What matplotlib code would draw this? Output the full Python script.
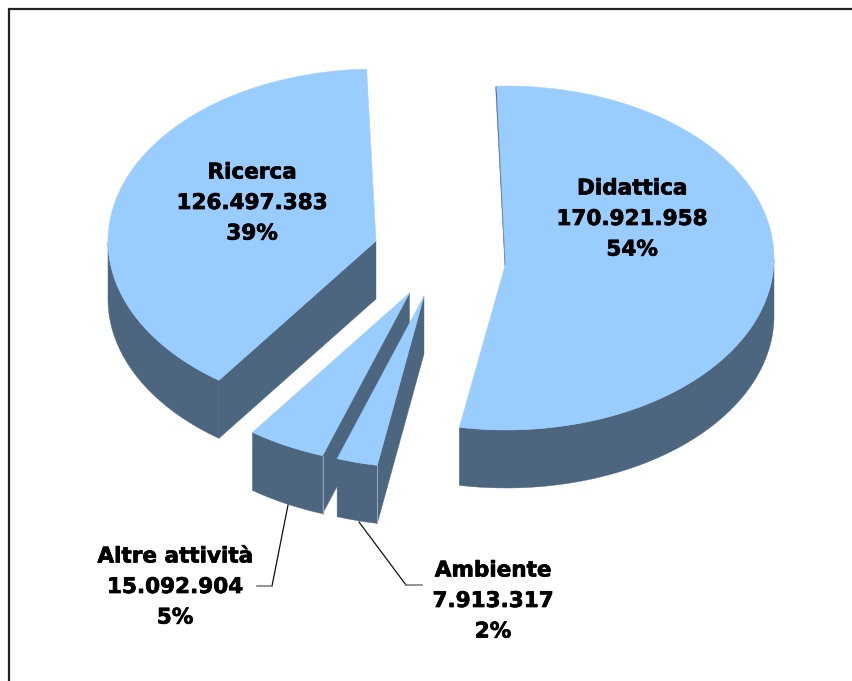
import numpy as np
import matplotlib
matplotlib.use('Agg')
import matplotlib.pyplot as plt
import matplotlib.patheffects as pe
from matplotlib.patches import Polygon

# valori
nomi = ['Didattica', 'Ambiente', 'Altre attività', 'Ricerca']
valori = [170921958, 7913317, 15092904, 126497383]
etichette_valori = ['170.921.958', '7.913.317', '15.092.904', '126.497.383']
etichette_perc = ['54%', '2%', '5%', '39%']

TOP = '#99CCFF'
SIDE = '#4D6680'
RX, RY = 268, 172
DEPTH = 58
START = 92

# per ogni fetta: centro ellisse e vertice (pixel), dopo l'esplosione
centri = {
    'Didattica': ((506, 258), (505.5, 264)),
    'Ambiente': ((424, 296), (424, 296)),
    'Altre attività': ((409.5, 293), (409.5, 293)),
    'Ricerca': ((376, 241), (376, 241)),
}
pos_testo = {
    'Didattica': (632, 219),
    'Ambiente': (493, 601),
    'Altre attività': (175, 587),
    'Ricerca': (252, 203),
}
ordine = ['Ricerca', 'Didattica', 'Altre attività', 'Ambiente']


def arco(centro, t):
    t = np.radians(t)
    return np.column_stack([centro[0] + RX * np.cos(t), centro[1] - RY * np.sin(t)])


fig = plt.figure(figsize=(8.53, 6.81), dpi=100)
ax = fig.add_axes([0, 0, 1, 1])
ax.set_xlim(0, 853)
ax.set_ylim(681, 0)
ax.axis('off')

# bordo del grafico, solo sopra e a sinistra
ax.plot([9.5, 9.5, 853], [681, 9, 9], color='#222222', lw=1.6, solid_joinstyle='miter')

# angoli dai valori, in senso orario
tot = sum(valori)
angoli = {}
a = START
for n, v in zip(nomi, valori):
    b = a - v / tot * 360
    angoli[n] = (a, b)
    a = b


def faccia(pts, colore=SIDE):
    ax.add_patch(Polygon(pts, closed=True, fc=colore, ec=colore, lw=0.3))


for n in ordine:
    c, v = centri[n]
    t1, t2 = angoli[n]
    tt = np.linspace(t1, t2, 300)
    pts = arco(c, tt)
    p_start = pts[0]
    giu = np.array([0, DEPTH])

    # parete tagliata
    if n == 'Didattica':
        # qui si vede solo una striscia sottile
        faccia([p_start, np.array(v) + [1, -2], np.array(v) + [-0.5, 3], p_start + [-1, 1]])
    else:
        faccia([v, p_start, p_start + giu, np.array(v) + giu])

    # parete esterna, solo la parte davanti
    davanti = pts[(tt % 360 > 180) & (tt % 360 < 360)]
    if len(davanti) > 1:
        faccia(np.vstack([davanti, (davanti + giu)[::-1]]))

    # faccia superiore
    ax.add_patch(Polygon(np.vstack([[v], pts]), closed=True, fc=TOP, ec=TOP, lw=0.3))

    # spigolo chiaro
    if n in ('Altre attività', 'Ambiente'):
        ax.plot([p_start[0], p_start[0]], [p_start[1], p_start[1] + DEPTH], color='#9AA8B6', lw=0.7)

# linee di richiamo
ax.plot([288, 272], [505, 586], color='#111111', lw=0.9)
ax.plot([272, 257], [586, 586], color='#777777', lw=1.1)
ax.plot([359, 406], [522, 585], color='#111111', lw=0.9)
ax.plot([406, 422], [585, 585], color='#777777', lw=1.1)

for n, ev, ep in zip(nomi, etichette_valori, etichette_perc):
    x, y = pos_testo[n]
    t = ax.text(x, y, n + '\n' + ev + '\n' + ep, ha='center', va='center', fontsize=15.5,
                fontweight='bold', color='black', linespacing=1.66, family='DejaVu Sans')
    t.set_path_effects([pe.withStroke(linewidth=0.5, foreground='black')])

fig.savefig('out.png', dpi=100, facecolor='white')
